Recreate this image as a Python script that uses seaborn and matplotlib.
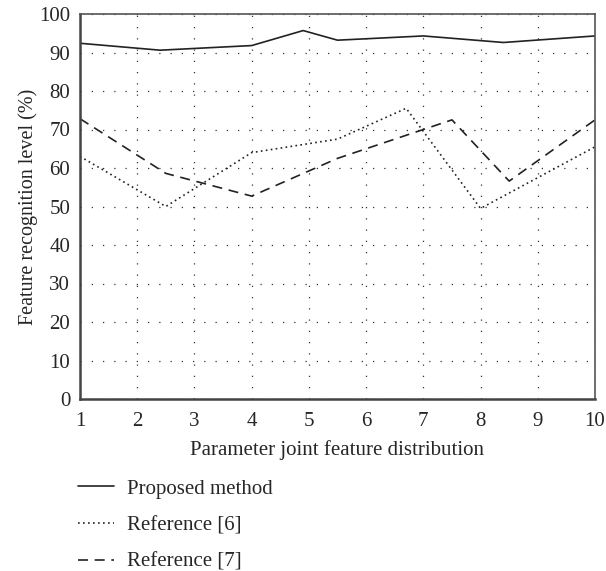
import matplotlib
matplotlib.use("Agg")
import matplotlib.pyplot as plt
import seaborn as sns
from matplotlib.lines import Line2D

# ── Data ──────────────────────────────────────────
proposed_x = [1, 2.4, 4, 4.9, 5.5, 7, 8.4, 10]
proposed_y = [92.4, 90.6, 91.8, 95.7, 93.2, 94.3, 92.6, 94.3]

ref6_x = [1, 2.5, 4, 5.5, 6.7, 8, 10]
ref6_y = [63, 50, 64, 67.5, 75.5, 49.5, 65.5]

ref7_x = [1, 2.5, 4, 5.5, 7.5, 8.5, 10]
ref7_y = [72.8, 58.6, 52.7, 62.5, 72.5, 56.6, 72.5]

labels = ["Proposed method", "Reference [6]", "Reference [7]"]
x_ticks = list(range(1, 11))
y_ticks = list(range(0, 101, 10))

# ── Style ─────────────────────────────────────────
sns.set_style("white")
plt.rcParams["font.family"] = ["Liberation Serif", "DejaVu Serif"]
fs = 15

fig = plt.figure(figsize=(6.06, 5.71), dpi=100)
ax = fig.add_axes([80 / 606, 1 - 399 / 571, 515 / 606, 385 / 571])

line_color = "#222222"
dotted = (0, (1, 2))
dashed = (0, (6, 4))

sns.lineplot(x=proposed_x, y=proposed_y, ax=ax, color=line_color, lw=1.2)
sns.lineplot(x=ref6_x, y=ref6_y, ax=ax, color=line_color, lw=1.2, linestyle=dotted)
sns.lineplot(x=ref7_x, y=ref7_y, ax=ax, color=line_color, lw=1.2, linestyle=dashed)

ax.set_xlim(1, 10)
ax.set_ylim(0, 100)
ax.set_xticks(x_ticks)
ax.set_yticks(y_ticks)
ax.grid(True, color="#333333", linestyle=(0, (1, 8)), linewidth=0.9)
ax.tick_params(axis="x", length=0, labelsize=fs, pad=9)
ax.tick_params(axis="y", length=0, labelsize=fs, pad=7)
ax.set_xlabel("Parameter joint feature distribution", fontsize=fs, labelpad=7)
ax.set_ylabel("Feature recognition level (%)", fontsize=14.5, labelpad=1)

for side in ["top", "right"]:
    ax.spines[side].set_color("#555555")
    ax.spines[side].set_linewidth(1.2)
for side in ["left", "bottom"]:
    ax.spines[side].set_color("#444444")
    ax.spines[side].set_linewidth(1.8)

handles = [
    Line2D([], [], color=line_color, lw=1.2),
    Line2D([], [], color=line_color, lw=1.2, linestyle=dotted),
    Line2D([], [], color=line_color, lw=1.2, linestyle=dashed),
]
fig.legend(handles, labels, loc="upper left", bbox_to_anchor=(78 / 606, 1 - 479 / 571),
           frameon=False, fontsize=fs, handlelength=1.75, handletextpad=0.6,
           labelspacing=0.82, borderpad=0, borderaxespad=0)

fig.savefig("out.png", dpi=100)
